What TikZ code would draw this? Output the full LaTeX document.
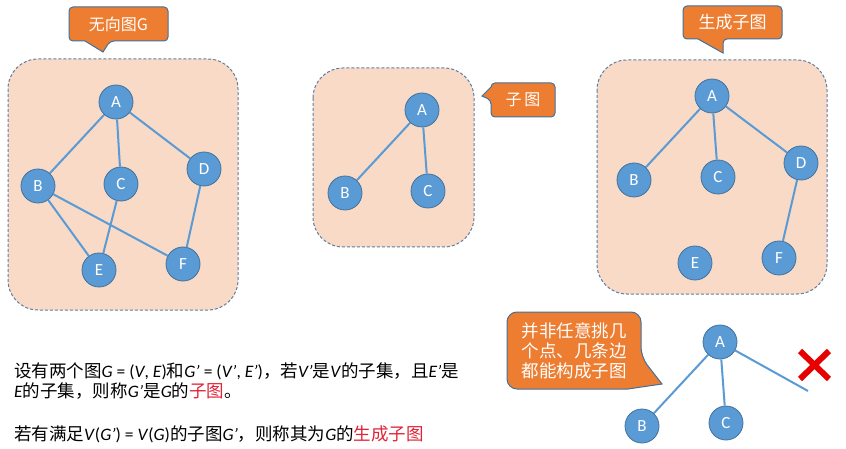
\documentclass[tikz,border=0pt]{standalone}
\usepackage{fontspec}
\setmainfont{Carlito}
\newfontfamily\cjk{Noto Sans CJK SC}
\definecolor{nodefill}{RGB}{91,155,213}
\definecolor{nodeline}{RGB}{65,113,156}
\definecolor{panelfill}{RGB}{248,218,198}
\definecolor{panelline}{RGB}{95,125,160}
\definecolor{callfill}{RGB}{237,125,49}
\definecolor{callline}{RGB}{65,113,156}
\definecolor{redtext}{RGB}{225,35,55}
\definecolor{crossred}{RGB}{230,0,0}
\newcommand\mvar[1]{\textit{#1}}
\tikzset{
  vtx/.style={circle, fill=nodefill, draw=nodeline, line width=0.8pt, minimum size=34pt, inner sep=0pt, text=white, font=\fontsize{17}{17}\selectfont},
  edge/.style={draw=nodefill, line width=2pt},
  panel/.style={fill=panelfill, draw=panelline, dash pattern=on 3pt off 2pt, line width=1pt, rounded corners=30pt},
  callout/.style={fill=callfill, draw=callline, line width=1pt},
  calltext/.style={text=white, inner sep=0pt},
  bodytext/.style={anchor=base west, inner sep=0pt, font=\fontsize{17.5}{20}\selectfont},
}
\begin{document}
\begin{tikzpicture}[x=1pt,y=-1pt]
\useasboundingbox (0,0) rectangle (846,449);
\fill[white] (0,0) rectangle (846,449);

% ---------- Panel 1: undirected graph G ----------
\draw[panel] (8,59) rectangle (238,310);
\node[vtx] (gA) at (116,102) {A};
\node[vtx] (gB) at (38,186) {B};
\node[vtx] (gC) at (121,184) {C};
\node[vtx] (gD) at (204,169) {D};
\node[vtx] (gE) at (99,270) {E};
\node[vtx] (gF) at (183,264) {F};
\draw[edge] (gA) -- (gB);
\draw[edge] (gA) -- (gC);
\draw[edge] (gA) -- (gD);
\draw[edge] (gB) -- (gE);
\draw[edge] (gB) -- (gF);
\draw[edge] (gC) -- (gE);
\draw[edge] (gD) -- (gF);

\draw[callout, rounded corners=4pt] (69,7) -- (168,7) -- (168,41) -- (110,41) [sharp corners] -- (103,52) -- (85,41) [rounded corners=4pt] -- (69,41) -- cycle;
\node[calltext, font=\cjk\fontsize{16}{16}\selectfont] (c1) at (118.5,24) {无向图G};

% ---------- Panel 2: subgraph ----------
\draw[panel] (313,68) rectangle (474,247);
\node[vtx] (sA) at (422,110) {A};
\node[vtx] (sB) at (345,193) {B};
\node[vtx] (sC) at (428,191) {C};
\draw[edge] (sA) -- (sB);
\draw[edge] (sA) -- (sC);

\draw[callout, rounded corners=4pt] (555,83) -- (555,117) -- (491,117) -- (491,100) [sharp corners] -- (482,96) -- (491,87) [rounded corners=4pt] -- (491,83) -- cycle;
\node[calltext, font=\cjk\fontsize{16}{16}\selectfont] (c2) at (523,100) {子\kern3pt 图};

% ---------- Panel 3: spanning subgraph ----------
\draw[panel] (597,60) rectangle (827,294);
\node[vtx] (tA) at (712,96) {A};
\node[vtx] (tB) at (634,180) {B};
\node[vtx] (tC) at (718,177) {C};
\node[vtx] (tD) at (801,163) {D};
\node[vtx] (tE) at (695,263) {E};
\node[vtx] (tF) at (779,258) {F};
\draw[edge] (tA) -- (tB);
\draw[edge] (tA) -- (tC);
\draw[edge] (tA) -- (tD);
\draw[edge] (tD) -- (tF);

\draw[callout, rounded corners=4pt] (683,6) -- (782,6) -- (782,39) -- (723,39) [sharp corners] -- (723,53) -- (698,39) [rounded corners=4pt] -- (683,39) -- cycle;
\node[calltext, font=\cjk\fontsize{17}{17}\selectfont] (c3) at (732.5,22.5) {生成子图};

% ---------- Bottom right: counter-example ----------
\draw[callout, rounded corners=10pt] (507,312) -- (641,312) -- (641,357) [sharp corners] -- (662,384) -- (628,389) [rounded corners=10pt] -- (507,389) -- cycle;
\node[calltext, align=left, font=\cjk\fontsize{17.5}{20}\selectfont] (c4) at (574,351) {并非任意挑几\\个点、几条边\\都能构成子图};

\node[vtx] (xA) at (720,342) {A};
\node[vtx] (xB) at (642,426) {B};
\node[vtx] (xC) at (726,423) {C};
\coordinate (xEnd) at (808,391);
\draw[edge] (xA) -- (xB);
\draw[edge] (xA) -- (xC);
\draw[edge] (xA) -- (xEnd);
\coordinate (k1) at (800,351);
\coordinate (k2) at (829,379);
\coordinate (k3) at (829,351);
\coordinate (k4) at (800,379);
\draw[crossred, line width=6pt] (k1) -- (k2);
\draw[crossred, line width=6pt] (k3) -- (k4);

% ---------- Definition text ----------
\node[bodytext] (t1) at (14,377) {{\cjk 设有两个图}\mvar{G} = (\mvar{V}, \mvar{E}){\cjk 和}\mvar{G'} = (\mvar{V'}, \mvar{E'}){\cjk ，若}\mvar{V'}{\cjk 是}\mvar{V}{\cjk 的子集，且}\mvar{E'}{\cjk 是}};
\node[bodytext] (t2) at (14,397) {\mvar{E}{\cjk 的子集，则称}\mvar{G'}{\cjk 是}\mvar{G}{\cjk 的}{\cjk\color{redtext}子图}{\cjk 。}};
\node[bodytext] (t3) at (14,440) {{\cjk 若有满足}\mvar{V}(\mvar{G'}) = \mvar{V}(\mvar{G}){\cjk 的子图}\mvar{G'}{\cjk ，则称其为}\mvar{G}{\cjk 的}{\cjk\color{redtext}生成子图}};
\end{tikzpicture}
\end{document}
